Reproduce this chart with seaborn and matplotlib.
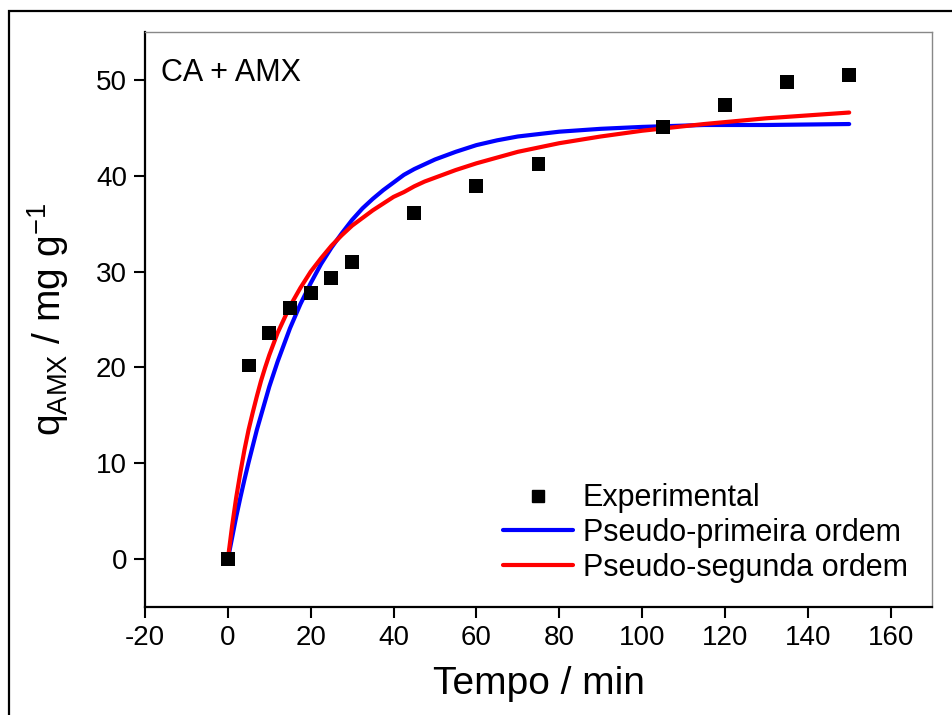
import matplotlib
matplotlib.use("Agg")
import matplotlib.pyplot as plt
import matplotlib.patches as mpatches
import pandas as pd
import seaborn as sns

# Experimental adsorption kinetics of AMX on CA
tempo_exp = [0, 5, 10, 15, 20, 25, 30, 45, 60, 75, 105, 120, 135, 150]
q_exp = [0.0, 20.2, 23.6, 26.2, 27.8, 29.3, 31.0, 36.1, 38.9, 41.2, 45.1, 47.4, 49.8, 50.5]

# Fitted model curves
tempo_mod = [0, 1, 2, 3, 4, 5, 6, 7, 8, 9, 10, 12, 15, 17.5, 20, 22.5, 25, 27.5,
             30, 32.5, 35, 37.5, 40, 42.5, 45, 47.5, 50, 55, 60, 65, 70, 80, 90,
             100, 115, 130, 150]
q_ppo = [0.0, 2.2, 4.4, 6.4, 8.3, 10.1, 11.8, 13.5, 15.0, 16.5, 18.0, 20.6, 24.1,
         26.6, 28.8, 30.8, 32.5, 34.0, 35.4, 36.6, 37.6, 38.5, 39.3, 40.1, 40.7,
         41.2, 41.7, 42.5, 43.2, 43.7, 44.1, 44.6, 44.9, 45.1, 45.3, 45.3, 45.4]
q_pso = [0.0, 3.4, 6.4, 9.0, 11.4, 13.5, 15.3, 17.0, 18.6, 20.0, 21.3, 23.6, 26.4,
         28.3, 30.0, 31.4, 32.7, 33.8, 34.8, 35.6, 36.4, 37.1, 37.8, 38.3, 38.9,
         39.4, 39.8, 40.6, 41.3, 41.9, 42.5, 43.4, 44.1, 44.7, 45.4, 46.0, 46.6]

lbl_exp = "Experimental"
lbl_ppo = "Pseudo-primeira ordem"
lbl_pso = "Pseudo-segunda ordem"
x_ticks = [-20, 0, 20, 40, 60, 80, 100, 120, 140, 160]
y_ticks = [0, 10, 20, 30, 40, 50]

sns.set_theme(style="ticks")
plt.rcParams["font.family"] = ["Liberation Sans", "DejaVu Sans"]
plt.rcParams["mathtext.default"] = "regular"
plt.rcParams["axes.unicode_minus"] = False
plt.rcParams["text.color"] = "black"
plt.rcParams["axes.labelcolor"] = "black"
plt.rcParams["xtick.color"] = "black"
plt.rcParams["ytick.color"] = "black"

df_exp = pd.DataFrame({"t": tempo_exp, "q": q_exp})
df_mod = pd.DataFrame({"t": tempo_mod + tempo_mod,
                       "q": q_ppo + q_pso,
                       "modelo": [lbl_ppo] * len(tempo_mod) + [lbl_pso] * len(tempo_mod)})

fig = plt.figure(figsize=(9.53, 7.15), dpi=100)
ax = fig.add_axes([0.1522, 0.1510, 0.978 - 0.1522, 0.9552 - 0.1510])

sns.lineplot(data=df_mod, x="t", y="q", hue="modelo",
             palette={lbl_ppo: "#0000ff", lbl_pso: "#ff0000"},
             linewidth=3.0, ax=ax, legend=False, sort=True)
sns.scatterplot(data=df_exp, x="t", y="q", marker="s", s=100, color="black",
                edgecolor="none", ax=ax, zorder=5, legend=False)

ax.set_xlim(-20, 170)
ax.set_ylim(-5, 55)
ax.set_xticks(x_ticks)
ax.set_yticks(y_ticks)
ax.set_xlabel("Tempo / min", fontsize=28, labelpad=11, color="black")
ax.set_ylabel("q$_{AMX}$ / mg g$^{-1}$", fontsize=28, labelpad=18, color="black")
ax.tick_params(axis="both", which="major", labelsize=20, length=8, width=1.5,
               direction="out", colors="black", pad=5)
ax.tick_params(top=False, right=False)

for side in ("left", "bottom"):
    ax.spines[side].set_color("black")
    ax.spines[side].set_linewidth(1.6)
for side in ("top", "right"):
    ax.spines[side].set_visible(True)
    ax.spines[side].set_color("#888888")
    ax.spines[side].set_linewidth(1.0)

ax.text(0.02, 0.955, "CA + AMX", transform=ax.transAxes, fontsize=22,
        ha="left", va="top", color="black")

handles = [
    plt.Line2D([], [], marker="s", linestyle="none", color="black", markersize=9),
    plt.Line2D([], [], color="#0000ff", linewidth=3.0),
    plt.Line2D([], [], color="#ff0000", linewidth=3.0),
]
leg = ax.legend(handles, [lbl_exp, lbl_ppo, lbl_pso], loc="lower right",
                bbox_to_anchor=(1.0, 0.0), frameon=False, fontsize=22,
                handlelength=2.3, handletextpad=0.3, labelspacing=0.15,
                borderaxespad=0.4)
for txt in leg.get_texts():
    txt.set_color("black")

# outer frame around the figure
top = 1 - 11 / 715
frame = mpatches.Rectangle((9 / 953, -0.2), 1.2, top + 0.2,
                           transform=fig.transFigure, fill=False,
                           edgecolor="black", linewidth=1.6, clip_on=False)
fig.patches.append(frame)

fig.savefig("out.png", dpi=100)
